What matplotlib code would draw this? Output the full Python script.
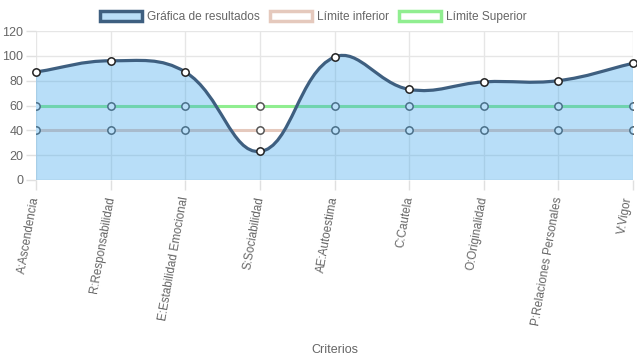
import numpy as np
import matplotlib
matplotlib.use("Agg")
import matplotlib.pyplot as plt
import matplotlib.transforms as mtransforms
from matplotlib.path import Path
from matplotlib.patches import PathPatch, Patch

categories = ["A:Ascendencia", "R:Responsabilidad", "E:Estabilidad Emocional",
              "S:Sociabilidad", "AE:Autoestima", "C:Cautela", "O:Originalidad",
              "P:Relaciones Personales", "V:Vigor"]
resultados = [87, 96, 87, 23, 99, 73, 79, 80, 94]
limite_inferior = [40, 40, 40, 40, 40, 40, 40, 40, 40]
limite_superior = [60, 60, 60, 60, 60, 60, 60, 60, 60]
y_ticks = [0, 20, 40, 60, 80, 100, 120]

plt.rcParams['font.family'] = ['Liberation Sans', 'DejaVu Sans']

W, H = 637, 359
fig = plt.figure(figsize=(W / 100, H / 100), dpi=100)
L, R, T, B = 36, 633, 31, 180
ax = fig.add_axes([L / W, 1 - B / H, (R - L) / W, (B - T) / H])
n = len(categories)
ax.set_xlim(0, n - 1)
ax.set_ylim(0, 120)

sx = (R - L) / (n - 1)
sy = (B - T) / 120.0

def spline_path(vals, t=0.4):
    pts = [(i, v) for i, v in enumerate(vals)]
    ctrl = []
    for i in range(len(pts)):
        prev = pts[i - 1] if i > 0 else pts[i]
        cur = pts[i]
        nxt = pts[i + 1] if i < len(pts) - 1 else pts[i]
        d01 = np.hypot((cur[0] - prev[0]) * sx, (cur[1] - prev[1]) * sy)
        d12 = np.hypot((nxt[0] - cur[0]) * sx, (nxt[1] - cur[1]) * sy)
        tot = d01 + d12
        s01 = d01 / tot if tot else 0
        s12 = d12 / tot if tot else 0
        fa, fb = t * s01, t * s12
        p = (cur[0] - fa * (nxt[0] - prev[0]), cur[1] - fa * (nxt[1] - prev[1]))
        q = (cur[0] + fb * (nxt[0] - prev[0]), cur[1] + fb * (nxt[1] - prev[1]))
        p = (min(max(p[0], 0), n - 1), min(max(p[1], 0), 120))
        q = (min(max(q[0], 0), n - 1), min(max(q[1], 0), 120))
        ctrl.append((p, q))
    verts = [pts[0]]
    codes = [Path.MOVETO]
    for i in range(1, len(pts)):
        verts += [ctrl[i - 1][1], ctrl[i][0], pts[i]]
        codes += [Path.CURVE4] * 3
    return verts, codes

# grid
for v in y_ticks:
    ax.axhline(v, color='#e6e6e6' if v else '#d0d0d0', lw=1, zorder=0)
for i in range(n):
    ax.axvline(i, color='#e6e6e6', lw=1, zorder=0)

res_color = '#3e5f80'
inf_color = '#e5c9bd'
sup_color = '#90ee90'
fill_color = (54 / 255, 162 / 255, 235 / 255, 0.35)

x = np.arange(n)
ax.plot(x, limite_superior, color=sup_color, lw=2.2, zorder=2, solid_capstyle='butt')
ax.plot(x, limite_inferior, color=inf_color, lw=2.2, zorder=2, solid_capstyle='butt')
ax.scatter(x, limite_superior, s=28, facecolor='white', edgecolor='#555555', lw=1.1, zorder=3)
ax.scatter(x, limite_inferior, s=28, facecolor='white', edgecolor='#555555', lw=1.1, zorder=3)

verts, codes = spline_path(resultados)
fverts = verts + [(n - 1, 0), (0, 0), verts[0]]
fcodes = codes + [Path.LINETO, Path.LINETO, Path.CLOSEPOLY]
ax.add_patch(PathPatch(Path(fverts, fcodes), facecolor=fill_color, edgecolor='none', zorder=4))
ax.add_patch(PathPatch(Path(verts, codes), facecolor='none', edgecolor=res_color, lw=2.3, zorder=5,
                       capstyle='round', joinstyle='round'))
ax.scatter(x, resultados, s=28, facecolor='white', edgecolor='#222222', lw=1.1, zorder=6, clip_on=False)

for s in ax.spines.values():
    s.set_visible(False)
ax.set_yticks(y_ticks)
ax.set_yticklabels([str(v) for v in y_ticks])
ax.set_xticks(x)
ax.set_xticklabels(categories, rotation=80, ha='right', va='center', rotation_mode='anchor')
ax.tick_params(axis='both', colors='#e0e0e0', labelcolor='#666666', labelsize=9, length=7, width=1)
ax.tick_params(axis='x', pad=5, labelsize=8.4)
ax.tick_params(axis='y', pad=2)
lbls = ax.get_xticklabels()
lbls[-1].set_transform(lbls[-1].get_transform() +
                       mtransforms.ScaledTranslation(-4 / 100, 0, fig.dpi_scale_trans))
ax.set_xlabel('Criterios', color='#666666', fontsize=9, labelpad=8)
ax.xaxis.set_label_coords(0.5, -1.1)

handles = [Patch(facecolor=(185/255, 222/255, 248/255), edgecolor=res_color, lw=2.5),
           Patch(facecolor='white', edgecolor=inf_color, lw=2.5),
           Patch(facecolor='white', edgecolor=sup_color, lw=2.5)]
leg = fig.legend(handles, ["Gráfica de resultados", "Límite inferior", "Límite Superior"],
                 loc='upper center', bbox_to_anchor=(0.492, 1.0), ncol=3, frameon=False,
                 fontsize=8.6, handlelength=3.5, handleheight=0.95, columnspacing=0.85,
                 handletextpad=0.45)
for t in leg.get_texts():
    t.set_color('#666666')

fig.savefig('out.png', dpi=100)
